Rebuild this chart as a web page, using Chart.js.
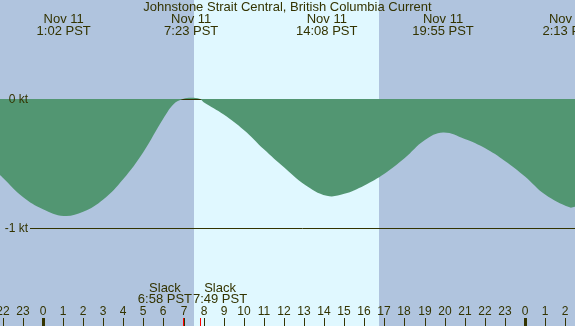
<!DOCTYPE html>
<html>
<head>
<meta charset="utf-8">
<script src="https://cdn.jsdelivr.net/npm/chart.js@4"></script>
<style>
  html, body { margin: 0; padding: 0; background: #b0c4de; }
  #wrap { width: 575px; height: 326px; }
</style>
</head>
<body>
<div id="wrap"><canvas id="tideChart" width="575" height="326"></canvas></div>
<script>
// hours since midnight Nov 11 (PST), current speed in knots (negative = ebb)
var hours = [-2.14, -2, -1, 0, 1.03, 2, 3, 4, 5, 6, 6.5, 6.97, 7.38, 7.82, 8, 9, 10, 11, 12, 13, 14.13, 15, 16, 17, 18, 19, 19.92, 21, 22, 23, 24, 25, 26.22, 26.49];
var knots = [-0.59, -0.61, -0.76, -0.855, -0.907, -0.875, -0.78, -0.62, -0.41, -0.15, -0.04, 0, 0.01, 0, -0.025, -0.12, -0.24, -0.39, -0.53, -0.66, -0.75, -0.735, -0.67, -0.58, -0.46, -0.32, -0.26, -0.31, -0.38, -0.48, -0.60, -0.74, -0.84, -0.835];

var eventHours = [1.03, 7.38, 14.13, 19.92, 26.22];
var eventDates = ['Nov 11', 'Nov 11', 'Nov 11', 'Nov 11', 'Nov 12'];
var eventTimes = ['1:02 PST', '7:23 PST', '14:08 PST', '19:55 PST', '2:13 PST'];

var slackHours = [6.97, 7.82];
var slackTimes = ['6:58 PST', '7:49 PST'];

var sunrise = 7.52, sunset = 16.73;
var tickHours = [];
for (var h = -2; h <= 26; h++) tickHours.push(h);
var kLines = [0, -1];
var kLabels = ['0 kt', '-1 kt'];

var textColor = '#333300';
var font = '"Liberation Sans", Arial, sans-serif';

var decor = {
    id: 'decor',
    beforeDraw: function(chart) {
        var c = chart.ctx, x = chart.scales.x, H = chart.height;
        c.save();
        c.fillStyle = '#b0c4de';
        c.fillRect(0, 0, chart.width, H);
        c.fillStyle = '#e0f8ff';
        var a = Math.round(x.getPixelForValue(sunrise)), b = Math.round(x.getPixelForValue(sunset));
        c.fillRect(a, 0, b - a, H);
        c.restore();
    },
    beforeDatasetsDraw: function(chart) {
        var c = chart.ctx, y = chart.scales.y;
        var py = Math.round(y.getPixelForValue(0)) + 0.5;
        c.save();
        c.strokeStyle = textColor;
        c.lineWidth = 1;
        c.beginPath(); c.moveTo(30, py); c.lineTo(chart.width, py); c.stroke();
        c.restore();
    },
    afterDatasetsDraw: function(chart) {
        var c = chart.ctx, x = chart.scales.x, y = chart.scales.y, W = chart.width, H = chart.height;
        c.save();
        c.fillStyle = textColor;
        c.strokeStyle = textColor;
        c.textBaseline = 'middle';

        // -1 kt line
        var py = Math.round(y.getPixelForValue(-1)) + 0.5;
        c.lineWidth = 1;
        c.beginPath(); c.moveTo(30, py); c.lineTo(W, py); c.stroke();

        // kt labels
        c.font = '12px ' + font;
        c.textAlign = 'right';
        for (var i = 0; i < kLines.length; i++) {
            c.fillText(kLabels[i], 28, y.getPixelForValue(kLines[i]) + 1);
        }

        // title
        c.font = '13px ' + font;
        c.textAlign = 'center';
        c.fillText('Johnstone Strait Central, British Columbia Current', W / 2, 7);

        // event labels
        for (i = 0; i < eventHours.length; i++) {
            var ex = x.getPixelForValue(eventHours[i]);
            c.fillText(eventDates[i], ex, 19);
            c.fillText(eventTimes[i], ex, 31);
        }

        // slack labels
        var offs = [-18, 20];
        for (i = 0; i < slackHours.length; i++) {
            var sx = x.getPixelForValue(slackHours[i]) + offs[i];
            c.fillText('Slack', sx, 288);
            c.fillText(slackTimes[i], sx, 299);
        }

        // hour ticks
        c.font = '12px ' + font;
        for (i = 0; i < tickHours.length; i++) {
            var hh = tickHours[i];
            var tx = Math.round(x.getPixelForValue(hh));
            var lbl = ((hh % 24) + 24) % 24;
            c.fillText(String(lbl), tx, 312);
            if (lbl === 0) {
                c.fillRect(tx - 1, 318, 3, H - 318);
            } else {
                c.fillRect(tx, 318, 1, H - 318);
            }
        }

        // slack ticks
        c.fillStyle = '#ff0000';
        for (i = 0; i < slackHours.length; i++) {
            var rx = Math.round(x.getPixelForValue(slackHours[i]));
            c.fillRect(rx, 318, 1, H - 318);
        }
        c.restore();
    }
};

var points = hours.map(function(h, i) { return { x: h, y: knots[i] }; });

var ctx = document.getElementById('tideChart').getContext('2d');
var tideChart = new Chart(ctx, {
    type: 'line',
    data: {
        datasets: [{
            data: points,
            backgroundColor: '#529672',
            borderWidth: 0,
            pointRadius: 0,
            fill: { value: 0 },
            tension: 0.4
        }]
    },
    options: {
        responsive: false,
        animation: false,
        layout: { padding: 0 },
        plugins: {
            legend: { display: false },
            tooltip: { enabled: false }
        },
        scales: {
            x: { type: 'linear', min: -2.14, max: 26.49, display: false },
            y: { min: -1.7597, max: 0.7674, display: false }
        }
    },
    plugins: [decor]
});
</script>
</body>
</html>
